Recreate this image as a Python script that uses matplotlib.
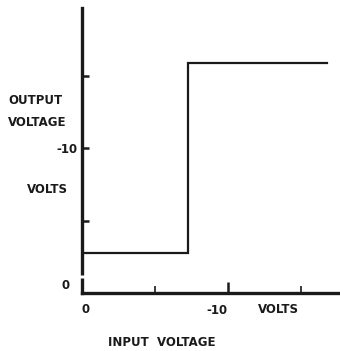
import matplotlib.pyplot as plt

# Step response of the comparator: output voltage vs input voltage (volts)
input_volts = [0.0, -7.3, -7.3, -16.8]
output_volts = [-2.8, -2.8, -15.9, -15.9]

x_ticks = [-10]
x_minor_ticks = [-5, -15]
y_ticks = [-5, -10, -15]
x_tick_labels = ['-10']
y_tick_labels = ['', '-10', '']

plt.rcParams['font.family'] = ['DejaVu Sans']
plt.rcParams['font.weight'] = 'bold'

fig = plt.figure(figsize=(3.40, 3.51), dpi=100)
ax = fig.add_axes([0.241, 0.165, 0.759, 0.812])

ax.plot(input_volts, output_volts, color='#1a1a1a', linewidth=1.6,
        solid_joinstyle='miter')

# negative volts grow to the right and upward
ax.set_xlim(0, -17.7)
ax.set_ylim(0, -19.7)

for side in ('top', 'right'):
    ax.spines[side].set_visible(False)
for side in ('left', 'bottom'):
    ax.spines[side].set_linewidth(2.4)
    ax.spines[side].set_color('#1a1a1a')

ax.set_yticks(y_ticks)
ax.set_yticklabels(y_tick_labels)
ax.tick_params(axis='y', direction='in', length=5, width=1.8, pad=3,
               labelsize=8.5, colors='#1a1a1a')

ax.set_xticks(x_ticks)
ax.set_xticklabels(x_tick_labels)
ax.set_xticks(x_minor_ticks, minor=True)
ax.tick_params(axis='x', which='major', direction='in', length=8, width=1.8,
               pad=7.5, labelsize=8.5, colors='#1a1a1a')
ax.tick_params(axis='x', which='minor', direction='in', length=5, width=1.2,
               colors='#1a1a1a')
for lbl in ax.get_xticklabels():
    lbl.set_horizontalalignment('right')

# small break in the vertical axis just above the corner
ax.plot([0, 0], [-1.05, -1.25], color='white', linewidth=3.5,
        solid_capstyle='butt', clip_on=False, zorder=5)

txt = dict(fontsize=8.5, fontweight='bold', color='#1a1a1a')
fig.text(0.024, 0.715, 'OUTPUT', va='center', ha='left', **txt)
fig.text(0.024, 0.650, 'VOLTAGE', va='center', ha='left', **txt)
fig.text(0.079, 0.459, 'VOLTS', va='center', ha='left', **txt)
fig.text(0.194, 0.188, '0', va='center', ha='center', **txt)
fig.text(0.252, 0.117, '0', va='center', ha='center', **txt)
fig.text(0.759, 0.117, 'VOLTS', va='center', ha='left', **txt)
fig.text(0.476, 0.025, 'INPUT  VOLTAGE', va='center', ha='center', **txt)

fig.savefig('out.png', dpi=100, facecolor='white')
